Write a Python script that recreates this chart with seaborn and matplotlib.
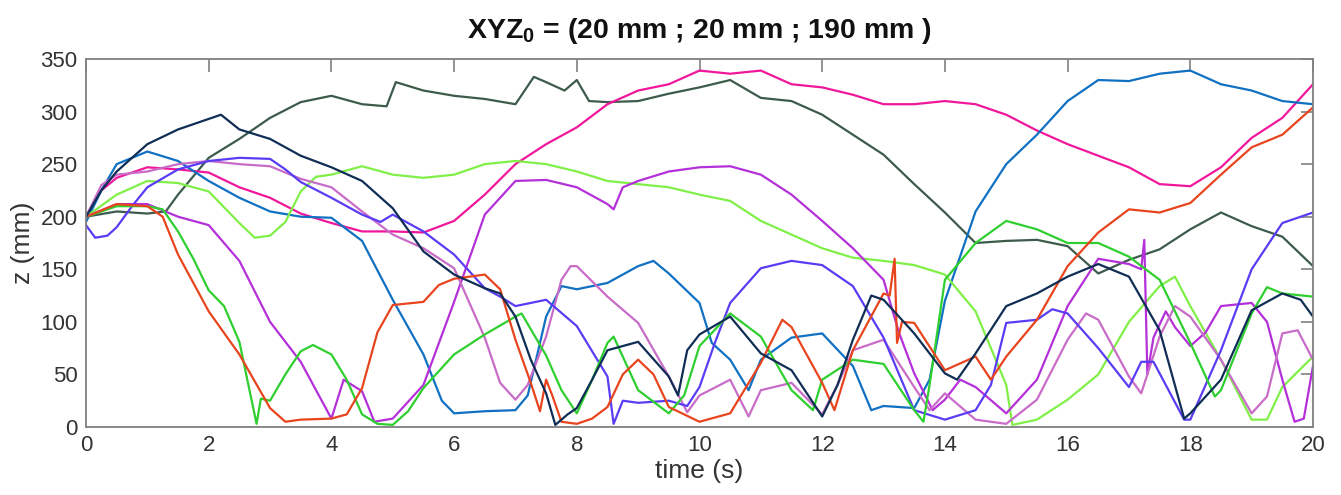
import matplotlib
matplotlib.use("Agg")
import matplotlib.pyplot as plt
import seaborn as sns
import pandas as pd

# ---- data ----
dkgreen_t = [0,0.5,1,1.3,1.5,2,2.5,3,3.5,4,4.5,4.9,5.05,5.5,6,6.5,7,7.3,7.5,7.8,8,8.2,8.5,9,9.5,10,10.5,11,11.5,12,12.5,13,13.5,14,14.5,15,15.5,16,16.5,17,17.5,18,18.5,19,19.5,20]
dkgreen_z = [200,205,203,205,221,256,274,294,309,315,307,305,328,320,315,312,307,333,328,320,330,310,309,310,317,323,330,313,310,297,278,259,231,204,175,177,178,172,146,159,169,188,204,191,181,153]

pink_t = [0,0.25,0.5,1,1.5,2,2.5,3,3.5,4,4.5,5,5.5,6,6.5,7,7.5,8,8.5,9,9.5,10,10.5,11,11.5,12,12.5,13,13.5,14,14.5,15,15.5,16,16.5,17,17.5,18,18.5,19,19.5,20]
pink_z = [200,225,237,247,245,242,228,218,203,194,186,186,185,196,221,250,269,285,307,320,326,339,336,339,326,323,316,307,307,310,307,297,282,269,258,247,231,229,247,275,294,326]

blue_t = [0,0.25,0.5,1,1.5,2,2.5,3,3.5,4,4.5,5,5.5,5.8,6,6.5,7,7.2,7.5,7.75,8,8.5,9,9.25,9.5,10,10.2,10.5,10.8,11,11.5,12,12.5,12.8,13,13.5,13.75,14,14.5,15,15.5,16,16.5,17,17.5,18,18.5,19,19.5,20]
blue_z = [195,225,250,262,253,234,218,205,200,199,177,121,69,25,13,15,16,30,105,134,131,137,153,158,146,118,80,64,35,64,85,89,58,16,20,18,45,120,205,250,278,310,330,329,336,339,326,320,310,307]

navy_t = [0,0.25,0.5,1,1.5,2,2.2,2.5,3,3.5,4,4.5,5,5.5,6,6.5,6.75,7,7.25,7.5,7.65,7.85,8,8.25,8.5,9,9.5,9.65,9.8,10,10.5,11,11.5,12,12.25,12.5,12.8,13,13.5,14,14.2,14.5,15,15.5,16,16.5,17,17.5,17.9,18,18.5,19,19.5,19.8,20]
navy_z = [200,225,243,269,283,293,297,283,274,258,247,234,208,167,145,132,127,105,64,32,2,12,18,45,73,81,48,30,73,88,105,70,54,10,40,83,125,121,89,51,45,70,115,127,143,155,143,92,8,13,45,111,127,121,105]

orchid_t = [0,0.25,0.5,1,1.5,2,2.5,3,3.5,4,4.5,5,5.5,6,6.5,6.75,7,7.2,7.5,7.75,7.9,8,8.5,9,9.5,9.8,10,10.5,10.8,11,11.5,12,12.25,12.5,13,13.5,13.75,14,14.5,15,15.5,16,16.3,16.5,17,17.2,17.5,17.75,18,18.5,19,19.25,19.5,19.75,20]
orchid_z = [200,230,240,243,250,253,250,248,236,228,205,183,170,151,85,42,26,40,86,140,153,153,124,99,48,14,30,45,10,35,42,12,40,73,83,38,16,32,7,3,26,83,108,102,48,32,86,115,105,64,13,29,89,92,64]

violet_t = [0,0.15,0.35,0.5,0.75,1,1.5,2,2.5,3,3.25,3.5,4,4.5,4.8,5,5.5,6,6.5,6.75,7,7.5,8,8.5,8.6,8.75,9,9.5,9.8,10,10.25,10.5,11,11.5,12,12.5,13,13.5,14,14.5,14.75,15,15.5,15.75,16,16.5,17,17.2,17.4,17.5,17.9,18,18.5,19,19.5,20]
violet_z = [192,180,182,190,210,228,245,253,256,255,245,233,218,202,195,202,186,164,132,124,115,121,96,48,3,25,23,25,20,38,80,118,151,158,154,134,85,16,7,16,40,99,102,112,108,75,38,62,62,51,7,7,73,150,194,204]

purple_t = [0,0.5,1,1.5,2,2.5,3,3.5,4,4.2,4.5,4.7,5,5.5,6,6.5,7,7.5,8,8.5,8.6,8.75,9,9.5,10,10.5,11,11.5,12,12.5,13,13.25,13.5,13.8,14,14.25,14.5,15,15.5,16,16.5,17,17.2,17.25,17.3,17.4,17.6,17.75,18,18.25,18.5,19,19.25,19.5,19.7,19.85,20]
purple_z = [200,212,212,200,192,158,100,62,8,45,34,5,8,40,119,202,234,235,228,212,207,228,234,243,247,248,240,221,196,170,140,90,51,16,26,45,38,13,45,115,160,155,150,178,50,85,110,95,77,90,115,118,100,45,5,8,58]

ltgreen_t = [0,0.5,1,1.5,2,2.5,2.75,3,3.25,3.5,3.75,4,4.5,5,5.5,6,6.5,7,7.5,8,8.5,9,9.5,10,10.5,11,11.5,12,12.5,13,13.5,14,14.5,15,15.1,15.5,16,16.5,17,17.5,17.75,18,18.5,19,19.25,19.5,20]
ltgreen_z = [200,221,234,232,224,194,180,182,195,224,238,240,248,240,237,240,250,253,250,243,234,231,228,221,215,196,183,170,161,158,154,145,110,40,2,7,26,50,100,134,143,115,64,7,7,38,67]

green_t = [0,0.5,1,1.25,1.5,1.75,2,2.25,2.5,2.78,2.85,3,3.25,3.5,3.7,4,4.25,4.5,4.75,5,5.25,5.5,6,6.5,7,7.1,7.5,7.75,8,8.25,8.5,8.6,9,9.5,9.75,10,10.5,11,11.5,11.85,12,12.5,13,13.5,13.65,13.75,14,14.5,15,15.5,16,16.5,17,17.5,18,18.4,18.5,19,19.25,19.5,20]
green_z = [200,210,210,207,186,160,130,115,81,3,27,25,50,72,78,69,45,12,3,2,15,37,69,88,105,108,68,35,13,45,80,86,35,13,30,77,108,86,35,16,45,64,60,16,5,40,140,175,196,188,175,175,162,140,80,29,35,108,133,127,124]

red_t = [0,0.5,1,1.25,1.5,2,2.5,3,3.25,3.5,4,4.25,4.5,4.75,5,5.5,5.75,6,6.5,6.75,7,7.25,7.4,7.5,7.6,7.75,8,8.25,8.5,8.75,9,9.25,9.5,10,10.5,11,11.35,11.5,12,12.2,12.5,13,13.1,13.18,13.22,13.3,13.5,14,14.5,14.75,15,15.5,16,16.5,17,17.5,18,18.5,19,19.5,20]
red_z = [200,212,210,200,164,110,69,18,5,7,8,12,37,90,116,119,135,141,145,131,83,42,15,45,30,5,3,8,19,50,64,50,19,5,13,61,102,95,42,16,73,127,125,160,80,100,99,54,67,45,67,102,153,185,207,204,213,240,266,278,304]

series = {
    "dkgreen": (dkgreen_t, dkgreen_z, "#3d5b4b"),
    "pink": (pink_t, pink_z, "#f0179b"),
    "blue": (blue_t, blue_z, "#1070c2"),
    "ltgreen": (ltgreen_t, ltgreen_z, "#80f048"),
    "purple": (purple_t, purple_z, "#b430d8"),
    "orchid": (orchid_t, orchid_z, "#c86cc8"),
    "violet": (violet_t, violet_z, "#5a3cf4"),
    "green": (green_t, green_z, "#2ecf2e"),
    "red": (red_t, red_z, "#e8441e"),
    "navy": (navy_t, navy_z, "#102e55"),
}

frames = []
for name, (t, z, _) in series.items():
    frames.append(pd.DataFrame({"t": t, "z": z, "series": name}))
df = pd.concat(frames, ignore_index=True)
palette = {name: c for name, (_, _, c) in series.items()}

sns.set_theme(style="white")
plt.rcParams["font.family"] = ["Liberation Sans", "DejaVu Sans"]
plt.rcParams["mathtext.fontset"] = "custom"
plt.rcParams["mathtext.rm"] = "Liberation Sans"
plt.rcParams["mathtext.bf"] = "Liberation Sans:bold"

fig = plt.figure(figsize=(13.41, 4.95), dpi=100)
ax = fig.add_axes([86/1341, 1-427/495, (1313-86)/1341, (427-59)/495])

sns.lineplot(data=df, x="t", y="z", hue="series", palette=palette, sort=False,
             estimator=None, units="series", legend=False, linewidth=1.6, ax=ax)

ax.set_xlim(0, 20)
ax.set_ylim(0, 350)
ax.set_xticks(range(0, 21, 2))
ax.set_yticks(range(0, 351, 50))
for s in ax.spines.values():
    s.set_visible(True)
    s.set_color("#808080")
    s.set_linewidth(1.3)
ax.tick_params(direction="in", length=9, width=1.2, color="#808080",
               top=True, right=True, labelsize=16, labelcolor="#333333", pad=6)
ax.set_xlabel("time (s)", fontsize=19, color="#333333", labelpad=2)
ax.set_ylabel("z (mm)", fontsize=19, color="#333333", labelpad=4)
ax.set_title(r"XYZ$_\mathbf{0}$ = (20 mm ; 20 mm ; 190 mm )", fontsize=20.5,
             fontweight="bold", color="#111111", pad=15)

fig.savefig("out.png", dpi=100)
